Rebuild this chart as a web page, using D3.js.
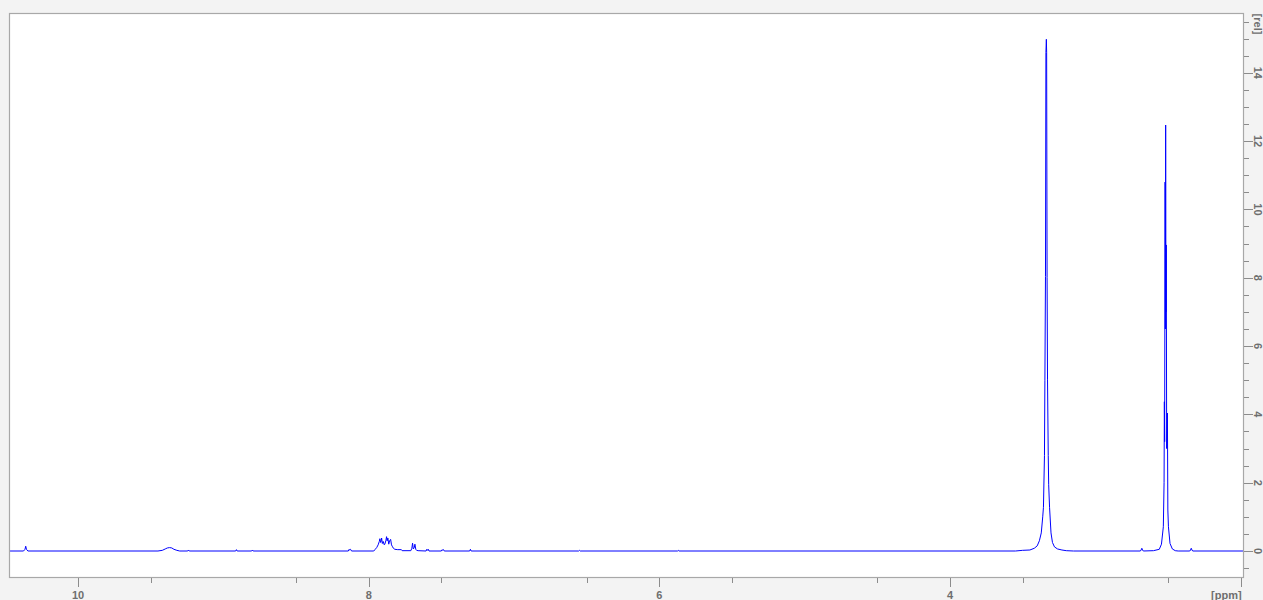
<!DOCTYPE html>
<html>
<head>
<meta charset="utf-8">
<script src="https://cdn.jsdelivr.net/npm/d3@7"></script>
<style>
html,body{margin:0;padding:0;background:#f3f3f3;}
svg{display:block;}
</style>
</head>
<body>
<svg id="chart" width="1263" height="600"></svg>
<script>
// ---- data ----
const ppm = [
  10.48, 10.375, 10.365, 10.360, 10.355, 10.345,
  9.45, 9.42, 9.40, 9.385, 9.37, 9.355, 9.34, 9.32, 9.30,
  9.245, 9.24, 9.235,
  8.915, 8.91, 8.905,
  8.805, 8.80, 8.795,
  8.14, 8.135, 8.13, 8.125, 8.118,
  7.965, 7.957, 7.945, 7.935, 7.927, 7.923, 7.918, 7.914, 7.911, 7.906, 7.900,
  7.893, 7.889, 7.882, 7.877, 7.873, 7.868, 7.862, 7.856, 7.849, 7.843, 7.838,
  7.830, 7.820, 7.80, 7.775, 7.77,
  7.71, 7.703, 7.698, 7.693, 7.686, 7.682, 7.676, 7.67, 7.66,
  7.605, 7.60, 7.595, 7.59, 7.585,
  7.50, 7.495, 7.49, 7.485, 7.48,
  7.305, 7.30, 7.295,
  6.555, 6.55, 6.545,
  5.875, 5.87, 5.865,
  3.55, 3.50, 3.45, 3.42, 3.40, 3.385, 3.372, 3.362, 3.357, 3.350, 3.347, 3.343,
  3.340, 3.337, 3.335, 3.332, 3.329, 3.324, 3.321, 3.315, 3.305, 3.295, 3.281,
  3.26, 3.23, 3.20, 3.15,
  2.69, 2.685, 2.68, 2.675, 2.67,
  2.60, 2.56, 2.545, 2.532, 2.527, 2.525, 2.523, 2.520, 2.518, 2.516, 2.514,
  2.512, 2.509, 2.506, 2.504, 2.501, 2.497, 2.486, 2.47, 2.45, 2.43,
  2.35, 2.345, 2.34, 2.335, 2.33,
  1.97
];
const intensity = [
  0, 0, 0.05, 0.14, 0.05, 0,
  0, 0.02, 0.06, 0.09, 0.10, 0.09, 0.05, 0.02, 0,
  0, 0.03, 0,
  0, 0.04, 0,
  0, 0.03, 0,
  0, 0.05, 0.03, 0.05, 0,
  0, 0.04, 0.10, 0.18, 0.28, 0.36, 0.25, 0.30, 0.38, 0.22, 0.28,
  0.18, 0.20, 0.30, 0.42, 0.30, 0.38, 0.20, 0.30, 0.34, 0.18, 0.14,
  0.08, 0.05, 0.04, 0.04, 0.01,
  0.01, 0.08, 0.23, 0.06, 0.10, 0.20, 0.05, 0.02, 0.01,
  0, 0.05, 0.02, 0.05, 0,
  0, 0.04, 0.02, 0.04, 0,
  0, 0.05, 0,
  0, 0.02, 0,
  0, 0.02, 0,
  0, 0.02, 0.03, 0.08, 0.15, 0.30, 0.53, 1.00, 1.28, 2.79, 5.00, 8.04,
  14.59, 14.98, 14.60, 8.00, 5.01, 2.80, 1.94, 1.28, 0.53, 0.25, 0.12,
  0.06, 0.03, 0.01, 0,
  0, 0.03, 0.08, 0.03, 0,
  0.01, 0.05, 0.20, 0.71, 2.00, 4.37, 3.20, 10.80, 6.50, 12.47, 7.00,
  8.96, 3.00, 3.60, 4.04, 1.20, 0.71, 0.22, 0.06, 0.01, 0,
  0, 0.03, 0.08, 0.03, 0,
  0
];
const xMajorTicks = [10, 8, 6, 4, 2];
const xTickLabels = ["10", "8", "6", "4", "[ppm]"];
const yMajorTicks = [0, 2, 4, 6, 8, 10, 12, 14];
const yTickLabels = ["0", "2", "4", "6", "8", "10", "12", "14"];
const yUnitLabel = "[rel]";

// ---- layout ----
const L = 9, R = 1244, T = 13, B = 578;
const svg = d3.select("#chart");

const x = d3.scaleLinear().domain([10.475, 1.977]).range([L, R]);
const y = d3.scaleLinear().domain([-0.79, 15.75]).range([B, T]);

svg.append("rect").attr("x", 0).attr("y", 0).attr("width", 1263).attr("height", 600).attr("fill", "#f3f3f3");
svg.append("rect").attr("x", L).attr("y", T).attr("width", R - L).attr("height", B - T)
  .attr("fill", "#ffffff");

svg.append("clipPath").attr("id", "clip")
  .append("rect").attr("x", L).attr("y", T).attr("width", R - L).attr("height", B - T);

const pts = ppm.map((p, i) => [p, intensity[i]]);
const line = d3.line().x(d => x(d[0])).y(d => y(d[1]));
svg.append("path").attr("d", line(pts)).attr("clip-path", "url(#clip)")
  .attr("fill", "none").attr("stroke", "#0000ff").attr("stroke-width", 1)
  .attr("stroke-linejoin", "miter");

// border
svg.append("rect").attr("x", L + 0.5).attr("y", T + 0.5).attr("width", R - L - 1).attr("height", B - T - 1)
  .attr("fill", "none").attr("stroke", "#a8a8a8").attr("stroke-width", 1.2);

const tickCol = "#8c8c8c", labCol = "#6e6e6e";
const font = "Liberation Sans, Arial, sans-serif";

// x axis
const xMinor = d3.range(2.5, 10.5, 1);
const xg = svg.append("g");
xg.selectAll(".xmin").data(xMinor).join("line")
  .attr("x1", d => Math.round(x(d)) + 0.5).attr("x2", d => Math.round(x(d)) + 0.5)
  .attr("y1", B).attr("y2", B + 5).attr("stroke", tickCol).attr("stroke-width", 1);
xg.selectAll(".xmaj").data(xMajorTicks).join("line")
  .attr("x1", d => Math.round(x(d)) + 0.5).attr("x2", d => Math.round(x(d)) + 0.5)
  .attr("y1", B).attr("y2", B + 9).attr("stroke", tickCol).attr("stroke-width", 1);
xg.selectAll(".xlab").data(xMajorTicks).join("text")
  .attr("x", (d, i) => i === xMajorTicks.length - 1 ? x(d) + 1 : x(d))
  .attr("y", 599)
  .attr("text-anchor", (d, i) => i === xMajorTicks.length - 1 ? "end" : "middle")
  .attr("font-family", font).attr("font-size", 11).attr("font-weight", "bold")
  .attr("fill", labCol)
  .text((d, i) => xTickLabels[i]);

// y axis (right)
const yMinor = d3.range(-0.5, 15.75, 0.5).filter(v => Math.abs(v % 2) > 1e-9);
const yg = svg.append("g");
yg.selectAll(".ymin").data(yMinor).join("line")
  .attr("y1", d => Math.round(y(d)) + 0.5).attr("y2", d => Math.round(y(d)) + 0.5)
  .attr("x1", R).attr("x2", R + 5).attr("stroke", tickCol).attr("stroke-width", 1);
yg.selectAll(".ymaj").data(yMajorTicks).join("line")
  .attr("y1", d => Math.round(y(d)) + 0.5).attr("y2", d => Math.round(y(d)) + 0.5)
  .attr("x1", R).attr("x2", R + 9).attr("stroke", tickCol).attr("stroke-width", 1);
yg.selectAll(".ylab").data(yMajorTicks).join("text")
  .attr("transform", d => `translate(1254,${y(d)}) rotate(90)`)
  .attr("text-anchor", "middle")
  .attr("font-family", font).attr("font-size", 11).attr("font-weight", "bold")
  .attr("fill", labCol)
  .text((d, i) => yTickLabels[i]);
svg.append("text")
  .attr("transform", `translate(1254,24) rotate(90)`)
  .attr("text-anchor", "middle")
  .attr("font-family", font).attr("font-size", 11).attr("font-weight", "bold")
  .attr("fill", labCol)
  .text(yUnitLabel);
</script>
</body>
</html>
